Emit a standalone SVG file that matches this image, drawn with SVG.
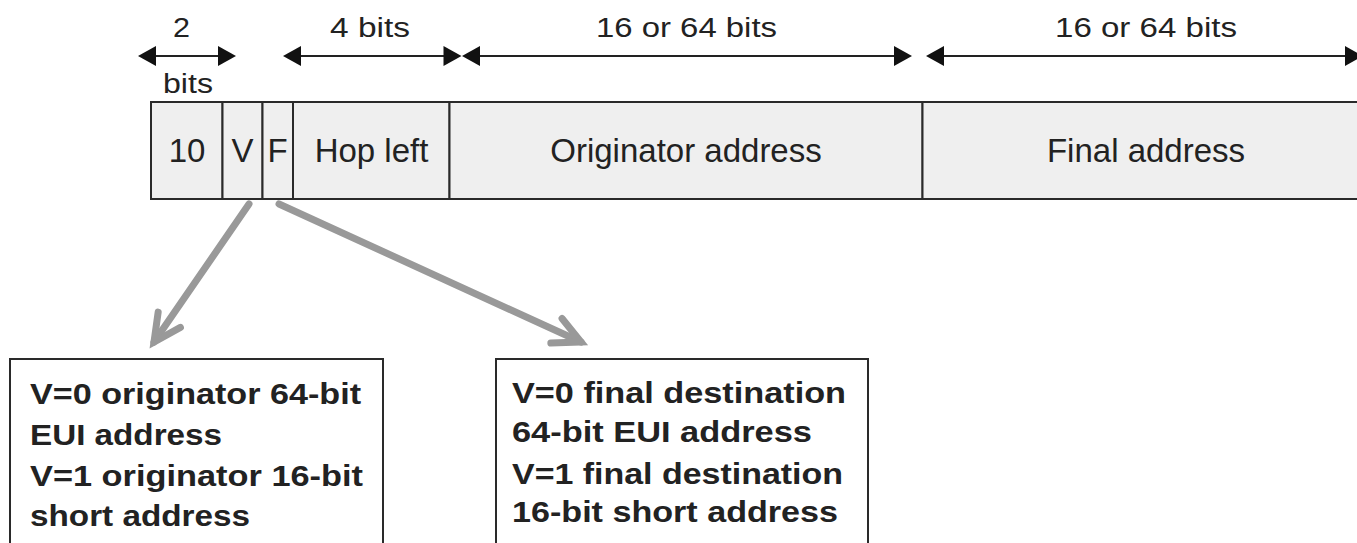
<svg xmlns="http://www.w3.org/2000/svg" width="1357" height="543" viewBox="0 0 1357 543">
  <style>
    .lbl { font-family: "Liberation Sans", Arial, sans-serif; font-size: 27px; fill: #222; }
    .fld { font-family: "Liberation Sans", Arial, sans-serif; font-size: 33px; fill: #222; text-anchor: middle; }
    .note { font-family: "Liberation Sans", Arial, sans-serif; font-size: 30px; font-weight: bold; fill: #222; }
    .cell { fill: #efefef; stroke: #2a2a2a; stroke-width: 2; }
    .box { fill: #ffffff; stroke: #2a2a2a; stroke-width: 2; }
    .dim { stroke: #222; stroke-width: 2; fill: none; }
    .head { fill: #111; }
    .ptr { stroke: #999; stroke-width: 7; fill: none; stroke-linecap: round; marker-end: url(#chev); }
  </style>
  <defs>
    <marker id="chev" markerUnits="userSpaceOnUse" markerWidth="60" markerHeight="60" viewBox="-40 -30 60 60" refX="0" refY="0" orient="auto" overflow="visible">
      <path d="M -27,-13.5 L 0,0 L -27,13.5" fill="none" stroke="#999" stroke-width="7" stroke-linecap="round" stroke-linejoin="miter"/>
    </marker>
  </defs>

  <rect width="1357" height="543" fill="#ffffff"/>

  <!-- field widths: dimension lines with solid heads -->
  <g id="dimensions">
    <g id="dim-2bits">
      <line class="dim" x1="150" y1="56" x2="224" y2="56"/>
      <polygon class="head" points="138,56 156,46 156,66"/>
      <polygon class="head" points="236,56 218,46 218,66"/>
      <text class="lbl" x="181.5" y="37" text-anchor="middle" textLength="17" lengthAdjust="spacingAndGlyphs">2</text>
      <text class="lbl" x="163" y="93" textLength="50" lengthAdjust="spacingAndGlyphs">bits</text>
    </g>
    <g id="dim-4bits">
      <line class="dim" x1="295" y1="56" x2="450" y2="56"/>
      <polygon class="head" points="283,56 301,46 301,66"/>
      <polygon class="head" points="461.5,56 443.5,46 443.5,66"/>
      <text class="lbl" x="330" y="37" textLength="80" lengthAdjust="spacingAndGlyphs">4 bits</text>
    </g>
    <g id="dim-originator">
      <line class="dim" x1="474" y1="56" x2="900" y2="56"/>
      <polygon class="head" points="462,56 480,46 480,66"/>
      <polygon class="head" points="912,56 894,46 894,66"/>
      <text class="lbl" x="596" y="37" textLength="181" lengthAdjust="spacingAndGlyphs">16 or 64 bits</text>
    </g>
    <g id="dim-final">
      <line class="dim" x1="938" y1="56" x2="1350" y2="56"/>
      <polygon class="head" points="926,56 944,46 944,66"/>
      <polygon class="head" points="1363,56 1345,46 1345,66"/>
      <text class="lbl" x="1055" y="37" textLength="182" lengthAdjust="spacingAndGlyphs">16 or 64 bits</text>
    </g>
  </g>

  <!-- header fields -->
  <g id="header">
    <g id="field-10">
      <rect class="cell" x="151" y="102" width="71.5" height="97"/>
      <text class="fld" x="187" y="162">10</text>
    </g>
    <g id="field-V">
      <rect class="cell" x="222.5" y="102" width="40" height="97"/>
      <text class="fld" x="242.5" y="162">V</text>
    </g>
    <g id="field-F">
      <rect class="cell" x="262.5" y="102" width="30.5" height="97"/>
      <text class="fld" x="277.5" y="162">F</text>
    </g>
    <g id="field-hop">
      <rect class="cell" x="293" y="102" width="156.5" height="97"/>
      <text class="fld" x="371.5" y="162">Hop left</text>
    </g>
    <g id="field-originator">
      <rect class="cell" x="449.5" y="102" width="473" height="97"/>
      <text class="fld" x="686" y="162">Originator address</text>
    </g>
    <g id="field-final">
      <rect class="cell" x="922.5" y="102" width="447" height="97"/>
      <text class="fld" x="1146" y="162">Final address</text>
    </g>
  </g>

  <!-- pointers from the V and F bits -->
  <g id="connectors">
    <path class="ptr" d="M 249,204 L 154,342"/>
    <path class="ptr" d="M 279,204 L 581,342"/>
  </g>

  <g id="note-V">
    <rect class="box" x="10" y="359" width="373" height="200"/>
    <text class="note" x="30" y="404" textLength="331" lengthAdjust="spacingAndGlyphs">V=0 originator 64-bit</text>
    <text class="note" x="30" y="445" textLength="192" lengthAdjust="spacingAndGlyphs">EUI address</text>
    <text class="note" x="30" y="486" textLength="333" lengthAdjust="spacingAndGlyphs">V=1 originator 16-bit</text>
    <text class="note" x="30" y="526" textLength="220" lengthAdjust="spacingAndGlyphs">short address</text>
  </g>

  <g id="note-F">
    <rect class="box" x="496" y="359" width="372" height="200"/>
    <text class="note" x="512" y="403" textLength="334" lengthAdjust="spacingAndGlyphs">V=0 final destination</text>
    <text class="note" x="512" y="442" textLength="300" lengthAdjust="spacingAndGlyphs">64-bit EUI address</text>
    <text class="note" x="512" y="484" textLength="331" lengthAdjust="spacingAndGlyphs">V=1 final destination</text>
    <text class="note" x="512" y="522" textLength="326" lengthAdjust="spacingAndGlyphs">16-bit short address</text>
  </g>
</svg>
